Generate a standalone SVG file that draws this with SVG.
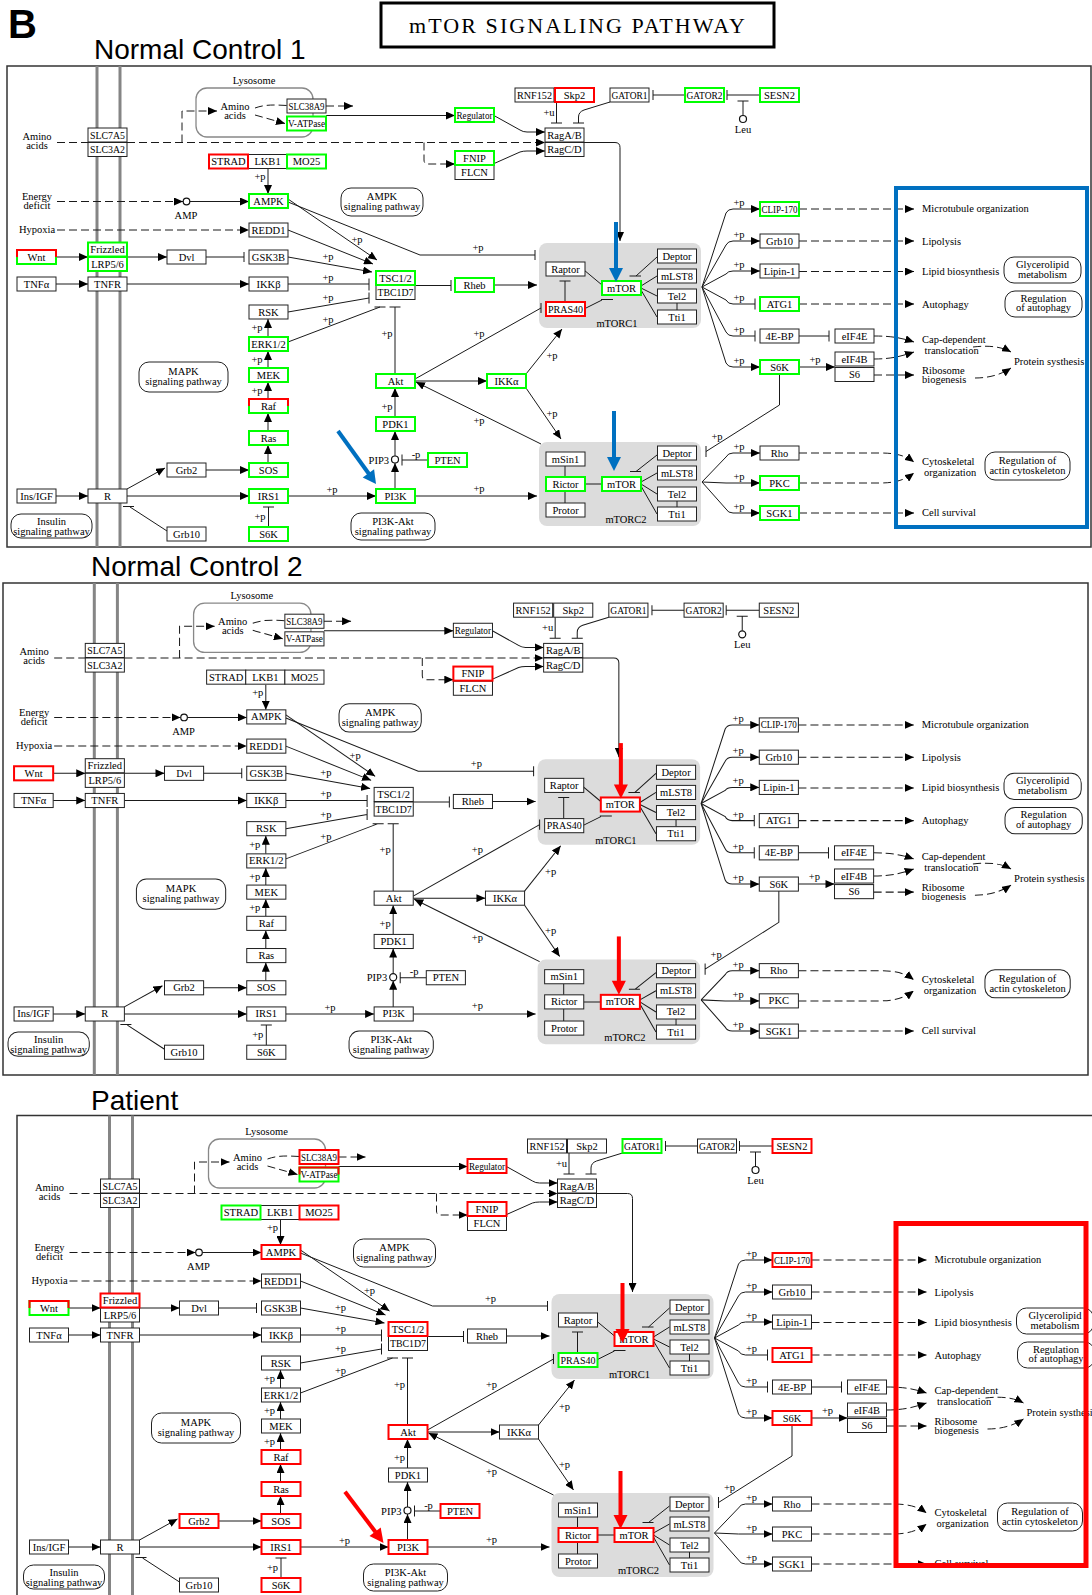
<svg xmlns="http://www.w3.org/2000/svg" xmlns:xlink="http://www.w3.org/1999/xlink" width="1092" height="1595" viewBox="0 0 1092 1595">
<style>
text{font-family:"Liberation Serif","DejaVu Serif",serif;font-size:10.5px;fill:#000;text-anchor:middle}
.l{text-anchor:start}.e{text-anchor:end}
.hd{font-family:"Liberation Sans",Arial,sans-serif;text-anchor:start;font-size:28px}
.hb{font-size:40px;font-weight:bold}
.tt{font-size:22px}
.n rect{width:39px;height:14px;fill:#fff;stroke:#222;stroke-width:1}
.g rect{stroke:#00ff00;stroke-width:2}
.r rect{stroke:#ff0000;stroke-width:2}
.rt{fill:none;stroke:#ff0000;stroke-width:2}
.w path{fill:none;stroke:#1a1a1a;stroke-width:1}
.w path.d{stroke-dasharray:8 4}
.w path.a{marker-end:url(#ah)}
.pw rect{fill:#fff;stroke:#222;stroke-width:1}
.ci{fill:#fff;stroke:#111;stroke-width:1.2}
.frame{fill:#fff;stroke:#333;stroke-width:1.5}
.mem{stroke:#858585;stroke-width:3}
.blue{fill:#0070c0;stroke:#0070c0}
.red{fill:#ff0000;stroke:#ff0000}
</style>
<defs>
<marker id="ah" viewBox="0 0 9 8" refX="9" refY="4" markerWidth="9" markerHeight="8" orient="auto" markerUnits="userSpaceOnUse"><path d="M0,0L9,4L0,8Z" fill="#000"/></marker>
</defs>
<rect width="1092" height="1595" fill="#fff"/>
<text class="hd hb" x="8" y="38">B</text>
<rect x="381" y="3" width="393" height="44" fill="#fff" stroke="#000" stroke-width="3"/>
<text class="tt" x="577" y="33" textLength="336">mTOR SIGNALING PATHWAY</text>
<text class="hd" x="94" y="59">Normal Control 1</text>
<text class="hd" x="91" y="576">Normal Control 2</text>
<text class="hd" x="91" y="1110">Patient</text>

<rect class="frame" x="7" y="66" width="1084" height="481"/>
<rect class="frame" x="3" y="583" width="1085" height="492"/>
<rect class="frame" x="17" y="1115.5" width="1090" height="500"/>
<g id="membranes">
<path class="mem" d="M97,66V547M120,66V547M94.3,583V1075M117.4,583V1075M109.5,1115.5V1595M132.5,1115.5V1595"/>
</g>

<g id="panel1">
<g id="base">
<rect x="196" y="88" width="117" height="49" rx="11" fill="none" stroke="#888" stroke-width="1.3"/>
<rect x="539" y="243" width="162" height="85" rx="8" fill="#dcdcdc"/>
<rect x="539" y="442" width="162" height="84" rx="8" fill="#dcdcdc"/>
<g class="pw">
<rect x="139" y="362" width="89" height="30" rx="10"/>
<rect x="341" y="188" width="82" height="28" rx="10"/>
<rect x="11" y="514" width="81" height="24" rx="10"/>
<rect x="351" y="513" width="84" height="27" rx="10"/>
<rect x="1004" y="257" width="77" height="26" rx="10"/>
<rect x="1005" y="291" width="77" height="26" rx="10"/>
<rect x="985" y="452" width="85" height="28" rx="10"/>
</g>
<g id="connectors" class="w">
<path class="d" d="M57,142.5H88"/>
<path class="d a" d="M127,142.5H545"/>
<path class="d a" d="M182,142.5V111H217"/>
<path class="d" d="M255,108C266,104 276,105 287,105.5"/>
<path class="d a" d="M255,115L285,123.5"/>
<path class="d a" d="M326,106H353"/>
<path class="a" d="M326,115.5H455"/>
<path class="a" d="M493,115L520,130Q523,132 527,132H545"/>
<path class="a" d="M493,164L520,152Q523,151 527,151H545"/>
<path class="d a" d="M424,142.5V160Q424,164 428,164H455"/>
<path d="M556.5,102V123M551,123H562"/>
<path d="M610,102L584,110Q578.5,112 578.5,117V123M573,123H584"/>
<path d="M685,95H653M653,90V100"/>
<path d="M760,95H727M727,90V100"/>
<path d="M743,115.5V101M737.5,101H748.5"/>
<path class="a" d="M584,142.5H615Q620,142.5 620,147.5V241"/>
<path class="d a" d="M57,201.5H183"/>
<path class="a" d="M190,201.5H249"/>
<path class="d a" d="M57,230H249"/>
<path class="a" d="M268,169V194"/>
<path class="a" d="M56,257H88"/>
<path class="a" d="M127,257H167"/>
<path d="M206,257H244M244,252V262"/>
<path class="a" d="M56,284H88"/>
<path class="a" d="M127,284H249"/>
<path class="a" d="M288,199L377,260"/>
<path d="M288,202L420,255H535M535,250V260"/>
<path class="a" d="M288,230L373,264"/>
<path class="a" d="M288,257L372,272"/>
<path d="M288,284H369M369,278.5V290.5"/>
<path d="M288,312L369,298M369,292.5V303.5"/>
<path d="M288,342L380,307M374.5,307H385.5"/>
<path d="M395,374V307M389.5,307H400.5"/>
<path d="M415,285.5H451M451,280V291"/>
<path class="a" d="M494,285H537"/>
<path class="a" d="M268,337V319"/>
<path class="a" d="M268,368V351"/>
<path class="a" d="M268,399V382"/>
<path class="a" d="M268,431V413"/>
<path class="a" d="M268,463V445"/>
<path d="M268.5,527V507M263,507H274"/>
<path class="a" d="M206,470H249"/>
<path class="a" d="M127,489L165,468"/>
<path class="a" d="M127,496H249"/>
<path class="a" d="M56,496H88"/>
<path d="M167,531L130,507M123,506.5H134"/>
<path class="a" d="M288,496H376"/>
<path class="a" d="M395,489V463"/>
<path class="a" d="M395,456V431"/>
<path class="a" d="M395,417V388"/>
<path d="M428,460H402M402,454.5V465.5"/>
<path class="a" d="M415,496H537"/>
<path class="a" d="M415,381H487"/>
<path class="a" d="M541,444L416,382"/>
<path d="M415,379L541,308M541,303V313"/>
<path class="a" d="M526,374L562,329"/>
<path class="a" d="M526,388L561,439"/>
<path d="M584,270L602,285"/>
<path d="M565,302V281M559.5,281H570.5"/>
<path d="M584,309L602,300M601,299.5H613"/>
<path d="M657,257L636,276M629.5,276H641"/>
<path d="M641,286L657,276M641,288L657,296M641,290L657,317M677,303V310"/>
<path d="M565,466V477M565,491V503M585,484H602"/>
<path d="M657,455L636,471.5M630,471.5H641"/>
<path d="M641,482L657,473M641,484L657,494M641,486L657,514M677,501V507"/>
<path class="a" d="M702,287L726,213Q728,209 733,209H760"/>
<path class="a" d="M702,287L726,245Q728,241 733,241H760"/>
<path class="a" d="M702,287L726,274Q728,271 733,271H760"/>
<path d="M702,287L726,300Q728,304 733,304H755M755,298.5V309.5"/>
<path d="M702,287L726,332Q728,336 733,336H755M755,330.5V341.5"/>
<path class="a" d="M702,287L726,363Q728,367 733,367H760"/>
<path class="a" d="M702,482L726,457Q728,453 733,453H760"/>
<path class="a" d="M702,482L726,483H760"/>
<path class="a" d="M702,482L726,509Q728,513 733,513H760"/>
<path d="M779.5,374V405L706,451.5M706,446V457"/>
<path class="a" d="M799,367H835"/>
<path d="M799,336H829M829,330.5V341.5"/>
<path class="d a" d="M799,209H914"/>
<path class="d a" d="M799,241H914"/>
<path class="d a" d="M799,271.5H914"/>
<path class="d a" d="M799,304H914"/>
<path class="d a" d="M874,336C892,336 902,338 914,342"/>
<path class="d a" d="M874,359C892,359 902,356 914,352"/>
<path class="d a" d="M874,375H914"/>
<path class="d a" d="M973,347C990,345 1002,347 1011,352"/>
<path class="d a" d="M975,378C990,378 1002,374 1011,368"/>
<path class="d a" d="M799,453H880C897,453 906,456 914,462"/>
<path class="d a" d="M799,483H880C897,483 906,479 914,473"/>
<path class="d a" d="M799,513H914"/>
</g>
<circle class="ci" cx="186.5" cy="201.5" r="3.3"/>
<circle class="ci" cx="395" cy="459.5" r="3.5"/>
<circle class="ci" cx="743" cy="119" r="3.5"/>
<g id="labels">
<text x="254" y="84">Lysosome</text>
<text x="235" y="110">Amino</text><text x="235" y="119">acids</text>
<text x="37" y="139.5">Amino</text><text x="37" y="148.5">acids</text>
<text x="37" y="200">Energy</text><text x="37" y="209">deficit</text>
<text x="37" y="233">Hypoxia</text>
<text x="186" y="218.5">AMP</text>
<text x="743" y="132.5">Leu</text>
<text class="e" x="389" y="463.5">PIP3</text>
<text x="617" y="327">mTORC1</text>
<text x="626" y="523">mTORC2</text>
<text x="183.5" y="374.5">MAPK</text><text x="183.5" y="385">signaling pathway</text>
<text x="382" y="200">AMPK</text><text x="382" y="210">signaling pathway</text>
<text x="51.5" y="525">Insulin</text><text x="51.5" y="535">signaling pathway</text>
<text x="393" y="524.5">PI3K-Akt</text><text x="393" y="535">signaling pathway</text>
<text x="1042.5" y="268">Glycerolipid</text><text x="1042.5" y="277.5">metabolism</text>
<text x="1043.5" y="301.5">Regulation</text><text x="1043.5" y="311">of autophagy</text>
<text x="1027.5" y="464">Regulation of</text><text x="1027.5" y="474">actin cytoskeleton</text>
<text class="l" x="922" y="212">Microtubule organization</text>
<text class="l" x="922" y="244.5">Lipolysis</text>
<text class="l" x="922" y="275">Lipid biosynthesis</text>
<text class="l" x="922" y="307.5">Autophagy</text>
<text class="l" x="922" y="343">Cap-dependent</text><text class="l" x="924.5" y="354">translocation</text>
<text class="l" x="922" y="373.5">Ribosome</text><text class="l" x="922" y="383">biogenesis</text>
<text class="l" x="1014" y="365">Protein systhesis</text>
<text class="l" x="922" y="465">Cytoskeletal</text><text class="l" x="924" y="476">organization</text>
<text class="l" x="922" y="516">Cell  survival</text>
<text x="549" y="116">+u</text>
<text x="260" y="180">+p</text>
<text x="357" y="243">+p</text>
<text x="478" y="251">+p</text>
<text x="328" y="260">+p</text>
<text x="328" y="281">+p</text>
<text x="328" y="301">+p</text>
<text x="328" y="323">+p</text>
<text x="257" y="331">+p</text>
<text x="257" y="362.5">+p</text>
<text x="257" y="393.5">+p</text>
<text x="260" y="520">+p</text>
<text x="332" y="493">+p</text>
<text x="387" y="336.5">+p</text>
<text x="387" y="409.5">+p</text>
<text x="479" y="336.5">+p</text>
<text x="479" y="423.5">+p</text>
<text x="479" y="491.5">+p</text>
<text x="552" y="358.5">+p</text>
<text x="552" y="417">+p</text>
<text x="416" y="457.5">-p</text>
<text x="739" y="206">+p</text>
<text x="739" y="238">+p</text>
<text x="739" y="268">+p</text>
<text x="739" y="301">+p</text>
<text x="739" y="333">+p</text>
<text x="739" y="364">+p</text>
<text x="739" y="450">+p</text>
<text x="739" y="480">+p</text>
<text x="739" y="510">+p</text>
<text x="815" y="363">+p</text>
<text x="717" y="440">+p</text>
</g>
</g>
<g id="nodes1">
<g id="n1-SLC7A5" class="n"><rect x="88" y="128"/><text x="107.5" y="138.5" textLength="35" lengthAdjust="spacingAndGlyphs">SLC7A5</text></g>
<g id="n1-SLC3A2" class="n"><rect x="88" y="142.5"/><text x="107.5" y="153" textLength="35" lengthAdjust="spacingAndGlyphs">SLC3A2</text></g>
<g id="n1-SLC38A9" class="n"><rect x="287" y="99"/><text x="306.5" y="109.5" textLength="36" lengthAdjust="spacingAndGlyphs">SLC38A9</text></g>
<g id="n1-RNF152" class="n"><rect x="515" y="88"/><text x="534.5" y="98.5" textLength="35" lengthAdjust="spacingAndGlyphs">RNF152</text></g>
<g id="n1-GATOR1" class="n"><rect x="610" y="88"/><text x="629.5" y="98.5" textLength="36" lengthAdjust="spacingAndGlyphs">GATOR1</text></g>
<g id="n1-RagAB" class="n"><rect x="545" y="128"/><text x="564.5" y="138.5">RagA/B</text></g>
<g id="n1-RagCD" class="n"><rect x="545" y="142.5"/><text x="564.5" y="153">RagC/D</text></g>
<g id="n1-FLCN" class="n"><rect x="455" y="165.5"/><text x="474.5" y="176">FLCN</text></g>
<g id="n1-LKB1" class="n"><rect x="248" y="154.5"/><text x="267.5" y="165">LKB1</text></g>
<g id="n1-REDD1" class="n"><rect x="249" y="223"/><text x="268.5" y="233.5">REDD1</text></g>
<g id="n1-GSK3B" class="n"><rect x="249" y="250"/><text x="268.5" y="260.5">GSK3B</text></g>
<g id="n1-IKKb" class="n"><rect x="249" y="277"/><text x="268.5" y="287.5">IKKβ</text></g>
<g id="n1-RSK" class="n"><rect x="249" y="305"/><text x="268.5" y="315.5">RSK</text></g>
<g id="n1-Dvl" class="n"><rect x="167" y="250"/><text x="186.5" y="260.5">Dvl</text></g>
<g id="n1-TNFa" class="n"><rect x="17" y="277"/><text x="36.5" y="287.5">TNFα</text></g>
<g id="n1-TNFR" class="n"><rect x="88" y="277"/><text x="107.5" y="287.5">TNFR</text></g>
<g id="n1-Grb2" class="n"><rect x="167" y="463"/><text x="186.5" y="473.5">Grb2</text></g>
<g id="n1-InsIGF" class="n"><rect x="17" y="489"/><text x="36.5" y="499.5">Ins/IGF</text></g>
<g id="n1-R" class="n"><rect x="88" y="489"/><text x="107.5" y="499.5">R</text></g>
<g id="n1-Grb10a" class="n"><rect x="167" y="527"/><text x="186.5" y="537.5">Grb10</text></g>
<g id="n1-TBC1D7" class="n"><rect x="376" y="285.5"/><text x="395.5" y="296" textLength="36" lengthAdjust="spacingAndGlyphs">TBC1D7</text></g>
<g id="n1-Raptor" class="n"><rect x="546" y="262"/><text x="565.5" y="272.5">Raptor</text></g>
<g id="n1-Deptor1" class="n"><rect x="657.5" y="249"/><text x="677" y="259.5">Deptor</text></g>
<g id="n1-mLST81" class="n"><rect x="657.5" y="269"/><text x="677" y="279.5">mLST8</text></g>
<g id="n1-Tel21" class="n"><rect x="657.5" y="289"/><text x="677" y="299.5">Tel2</text></g>
<g id="n1-Tti11" class="n"><rect x="657.5" y="310"/><text x="677" y="320.5">Tti1</text></g>
<g id="n1-mSin1" class="n"><rect x="546" y="452"/><text x="565.5" y="462.5">mSin1</text></g>
<g id="n1-Protor" class="n"><rect x="546" y="503"/><text x="565.5" y="513.5">Protor</text></g>
<g id="n1-Deptor2" class="n"><rect x="657.5" y="446"/><text x="677" y="456.5">Deptor</text></g>
<g id="n1-mLST82" class="n"><rect x="657.5" y="466"/><text x="677" y="476.5">mLST8</text></g>
<g id="n1-Tel22" class="n"><rect x="657.5" y="487"/><text x="677" y="497.5">Tel2</text></g>
<g id="n1-Tti12" class="n"><rect x="657.5" y="507"/><text x="677" y="517.5">Tti1</text></g>
<g id="n1-Grb10b" class="n"><rect x="760" y="234"/><text x="779.5" y="244.5">Grb10</text></g>
<g id="n1-Lipin1" class="n"><rect x="760" y="264"/><text x="779.5" y="274.5">Lipin-1</text></g>
<g id="n1-4EBP" class="n"><rect x="760" y="329"/><text x="779.5" y="339.5">4E-BP</text></g>
<g id="n1-eIF4E" class="n"><rect x="835" y="329"/><text x="854.5" y="339.5">eIF4E</text></g>
<g id="n1-eIF4B" class="n"><rect x="835" y="352"/><text x="854.5" y="362.5">eIF4B</text></g>
<g id="n1-S6" class="n"><rect x="835" y="367.5"/><text x="854.5" y="378">S6</text></g>
<g id="n1-Rho" class="n"><rect x="760" y="446"/><text x="779.5" y="456.5">Rho</text></g>
<g id="n1-VATPase" class="n g"><rect x="287" y="116.5"/><text x="306.5" y="127" textLength="37" lengthAdjust="spacingAndGlyphs">V-ATPase</text></g>
<g id="n1-Regulator" class="n g"><rect x="455" y="108"/><text x="474.5" y="118.5" textLength="36" lengthAdjust="spacingAndGlyphs">Regulator</text></g>
<g id="n1-FNIP" class="n g"><rect x="455" y="151"/><text x="474.5" y="161.5">FNIP</text></g>
<g id="n1-GATOR2" class="n g"><rect x="685" y="88"/><text x="704.5" y="98.5" textLength="36" lengthAdjust="spacingAndGlyphs">GATOR2</text></g>
<g id="n1-SESN2" class="n g"><rect x="760" y="88"/><text x="779.5" y="98.5">SESN2</text></g>
<g id="n1-MO25" class="n g"><rect x="287" y="154.5"/><text x="306.5" y="165">MO25</text></g>
<g id="n1-AMPK" class="n g"><rect x="249" y="194"/><text x="268.5" y="204.5">AMPK</text></g>
<g id="n1-Frizzled" class="n g"><rect x="88" y="242.5"/><text x="107.5" y="253">Frizzled</text></g>
<g id="n1-LRP56" class="n g"><rect x="88" y="257"/><text x="107.5" y="267.5">LRP5/6</text></g>
<g id="n1-TSC12" class="n g"><rect x="376" y="271"/><text x="395.5" y="281.5">TSC1/2</text></g>
<g id="n1-Rheb" class="n g"><rect x="455" y="278"/><text x="474.5" y="288.5">Rheb</text></g>
<g id="n1-mTOR1" class="n g"><rect x="602" y="281"/><text x="621.5" y="291.5">mTOR</text></g>
<g id="n1-mTOR2" class="n g"><rect x="602" y="477"/><text x="621.5" y="487.5">mTOR</text></g>
<g id="n1-Rictor" class="n g"><rect x="546" y="477"/><text x="565.5" y="487.5">Rictor</text></g>
<g id="n1-CLIP170" class="n g"><rect x="760" y="202"/><text x="779.5" y="212.5" textLength="36" lengthAdjust="spacingAndGlyphs">CLIP-170</text></g>
<g id="n1-ATG1" class="n g"><rect x="760" y="297"/><text x="779.5" y="307.5">ATG1</text></g>
<g id="n1-S6Kb" class="n g"><rect x="760" y="360"/><text x="779.5" y="370.5">S6K</text></g>
<g id="n1-PKC" class="n g"><rect x="760" y="476"/><text x="779.5" y="486.5">PKC</text></g>
<g id="n1-SGK1" class="n g"><rect x="760" y="506"/><text x="779.5" y="516.5">SGK1</text></g>
<g id="n1-ERK" class="n g"><rect x="249" y="337"/><text x="268.5" y="347.5">ERK1/2</text></g>
<g id="n1-MEK" class="n g"><rect x="249" y="368"/><text x="268.5" y="378.5">MEK</text></g>
<g id="n1-Ras" class="n g"><rect x="249" y="431"/><text x="268.5" y="441.5">Ras</text></g>
<g id="n1-SOS" class="n g"><rect x="249" y="463"/><text x="268.5" y="473.5">SOS</text></g>
<g id="n1-IRS1" class="n g"><rect x="249" y="489"/><text x="268.5" y="499.5">IRS1</text></g>
<g id="n1-S6Ka" class="n g"><rect x="249" y="527"/><text x="268.5" y="537.5">S6K</text></g>
<g id="n1-Akt" class="n g"><rect x="376" y="374"/><text x="395.5" y="384.5">Akt</text></g>
<g id="n1-IKKa" class="n g"><rect x="487" y="374"/><text x="506.5" y="384.5">IKKα</text></g>
<g id="n1-PDK1" class="n g"><rect x="376" y="417"/><text x="395.5" y="427.5">PDK1</text></g>
<g id="n1-PTEN" class="n g"><rect x="428" y="453"/><text x="447.5" y="463.5">PTEN</text></g>
<g id="n1-PI3K" class="n g"><rect x="376" y="489"/><text x="395.5" y="499.5">PI3K</text></g>
<g id="n1-STRAD" class="n r"><rect x="209" y="154.5"/><text x="228.5" y="165">STRAD</text></g>
<g id="n1-Skp2" class="n r"><rect x="555" y="88"/><text x="574.5" y="98.5">Skp2</text></g>
<g id="n1-PRAS40" class="n r"><rect x="546" y="302"/><text x="565.5" y="312.5" textLength="35" lengthAdjust="spacingAndGlyphs">PRAS40</text></g>
<g id="n1-Wnt" class="n g"><rect x="17" y="250"/><path class="rt" d="M17,257V250H56V257"/><text x="36.5" y="260.5">Wnt</text></g>
<g id="n1-Raf" class="n g"><rect x="249" y="399"/><path class="rt" d="M249,406V399H288V406"/><text x="268.5" y="409.5">Raf</text></g>
</g>
<g id="highlights1">
<rect x="896" y="188" width="191" height="339" fill="none" stroke="#0070c0" stroke-width="4"/>
<path class="blue" stroke-width="4" d="M616,222V270"/><polygon class="blue" stroke-width="0" points="609,268 623,268 616,282"/>
<path class="blue" stroke-width="4" d="M614,411V458"/><polygon class="blue" stroke-width="0" points="607,457 621,457 614,471"/>
<path class="blue" stroke-width="4" d="M338,431L369,474"/><polygon class="blue" stroke-width="0" points="362.7,477.5 374.1,469.3 376,484"/>
</g>
</g>

<g id="panel2" transform="translate(-3,514.5) scale(1.003,1.007)">
<use href="#base" xlink:href="#base"/>
<g id="nodes2">
<g id="n2-SLC7A5" class="n"><rect x="88" y="128"/><text x="107.5" y="138.5" textLength="35" lengthAdjust="spacingAndGlyphs">SLC7A5</text></g>
<g id="n2-SLC3A2" class="n"><rect x="88" y="142.5"/><text x="107.5" y="153" textLength="35" lengthAdjust="spacingAndGlyphs">SLC3A2</text></g>
<g id="n2-SLC38A9" class="n"><rect x="287" y="99"/><text x="306.5" y="109.5" textLength="36" lengthAdjust="spacingAndGlyphs">SLC38A9</text></g>
<g id="n2-VATPase" class="n"><rect x="287" y="116.5"/><text x="306.5" y="127" textLength="37" lengthAdjust="spacingAndGlyphs">V-ATPase</text></g>
<g id="n2-Regulator" class="n"><rect x="455" y="108"/><text x="474.5" y="118.5" textLength="36" lengthAdjust="spacingAndGlyphs">Regulator</text></g>
<g id="n2-RNF152" class="n"><rect x="515" y="88"/><text x="534.5" y="98.5" textLength="35" lengthAdjust="spacingAndGlyphs">RNF152</text></g>
<g id="n2-Skp2" class="n"><rect x="555" y="88"/><text x="574.5" y="98.5">Skp2</text></g>
<g id="n2-GATOR1" class="n"><rect x="610" y="88"/><text x="629.5" y="98.5" textLength="36" lengthAdjust="spacingAndGlyphs">GATOR1</text></g>
<g id="n2-GATOR2" class="n"><rect x="685" y="88"/><text x="704.5" y="98.5" textLength="36" lengthAdjust="spacingAndGlyphs">GATOR2</text></g>
<g id="n2-SESN2" class="n"><rect x="760" y="88"/><text x="779.5" y="98.5">SESN2</text></g>
<g id="n2-RagAB" class="n"><rect x="545" y="128"/><text x="564.5" y="138.5">RagA/B</text></g>
<g id="n2-RagCD" class="n"><rect x="545" y="142.5"/><text x="564.5" y="153">RagC/D</text></g>
<g id="n2-FLCN" class="n"><rect x="455" y="165.5"/><text x="474.5" y="176">FLCN</text></g>
<g id="n2-STRAD" class="n"><rect x="209" y="154.5"/><text x="228.5" y="165">STRAD</text></g>
<g id="n2-LKB1" class="n"><rect x="248" y="154.5"/><text x="267.5" y="165">LKB1</text></g>
<g id="n2-MO25" class="n"><rect x="287" y="154.5"/><text x="306.5" y="165">MO25</text></g>
<g id="n2-AMPK" class="n"><rect x="249" y="194"/><text x="268.5" y="204.5">AMPK</text></g>
<g id="n2-REDD1" class="n"><rect x="249" y="223"/><text x="268.5" y="233.5">REDD1</text></g>
<g id="n2-GSK3B" class="n"><rect x="249" y="250"/><text x="268.5" y="260.5">GSK3B</text></g>
<g id="n2-IKKb" class="n"><rect x="249" y="277"/><text x="268.5" y="287.5">IKKβ</text></g>
<g id="n2-RSK" class="n"><rect x="249" y="305"/><text x="268.5" y="315.5">RSK</text></g>
<g id="n2-ERK" class="n"><rect x="249" y="337"/><text x="268.5" y="347.5">ERK1/2</text></g>
<g id="n2-MEK" class="n"><rect x="249" y="368"/><text x="268.5" y="378.5">MEK</text></g>
<g id="n2-Raf" class="n"><rect x="249" y="399"/><text x="268.5" y="409.5">Raf</text></g>
<g id="n2-Ras" class="n"><rect x="249" y="431"/><text x="268.5" y="441.5">Ras</text></g>
<g id="n2-SOS" class="n"><rect x="249" y="463"/><text x="268.5" y="473.5">SOS</text></g>
<g id="n2-IRS1" class="n"><rect x="249" y="489"/><text x="268.5" y="499.5">IRS1</text></g>
<g id="n2-S6Ka" class="n"><rect x="249" y="527"/><text x="268.5" y="537.5">S6K</text></g>
<g id="n2-Frizzled" class="n"><rect x="88" y="242.5"/><text x="107.5" y="253">Frizzled</text></g>
<g id="n2-LRP56" class="n"><rect x="88" y="257"/><text x="107.5" y="267.5">LRP5/6</text></g>
<g id="n2-Dvl" class="n"><rect x="167" y="250"/><text x="186.5" y="260.5">Dvl</text></g>
<g id="n2-TNFa" class="n"><rect x="17" y="277"/><text x="36.5" y="287.5">TNFα</text></g>
<g id="n2-TNFR" class="n"><rect x="88" y="277"/><text x="107.5" y="287.5">TNFR</text></g>
<g id="n2-Grb2" class="n"><rect x="167" y="463"/><text x="186.5" y="473.5">Grb2</text></g>
<g id="n2-InsIGF" class="n"><rect x="17" y="489"/><text x="36.5" y="499.5">Ins/IGF</text></g>
<g id="n2-R" class="n"><rect x="88" y="489"/><text x="107.5" y="499.5">R</text></g>
<g id="n2-Grb10a" class="n"><rect x="167" y="527"/><text x="186.5" y="537.5">Grb10</text></g>
<g id="n2-TSC12" class="n"><rect x="376" y="271"/><text x="395.5" y="281.5">TSC1/2</text></g>
<g id="n2-TBC1D7" class="n"><rect x="376" y="285.5"/><text x="395.5" y="296" textLength="36" lengthAdjust="spacingAndGlyphs">TBC1D7</text></g>
<g id="n2-Rheb" class="n"><rect x="455" y="278"/><text x="474.5" y="288.5">Rheb</text></g>
<g id="n2-Akt" class="n"><rect x="376" y="374"/><text x="395.5" y="384.5">Akt</text></g>
<g id="n2-IKKa" class="n"><rect x="487" y="374"/><text x="506.5" y="384.5">IKKα</text></g>
<g id="n2-PDK1" class="n"><rect x="376" y="417"/><text x="395.5" y="427.5">PDK1</text></g>
<g id="n2-PTEN" class="n"><rect x="428" y="453"/><text x="447.5" y="463.5">PTEN</text></g>
<g id="n2-PI3K" class="n"><rect x="376" y="489"/><text x="395.5" y="499.5">PI3K</text></g>
<g id="n2-Raptor" class="n"><rect x="546" y="262"/><text x="565.5" y="272.5">Raptor</text></g>
<g id="n2-PRAS40" class="n"><rect x="546" y="302"/><text x="565.5" y="312.5" textLength="35" lengthAdjust="spacingAndGlyphs">PRAS40</text></g>
<g id="n2-Deptor1" class="n"><rect x="657.5" y="249"/><text x="677" y="259.5">Deptor</text></g>
<g id="n2-mLST81" class="n"><rect x="657.5" y="269"/><text x="677" y="279.5">mLST8</text></g>
<g id="n2-Tel21" class="n"><rect x="657.5" y="289"/><text x="677" y="299.5">Tel2</text></g>
<g id="n2-Tti11" class="n"><rect x="657.5" y="310"/><text x="677" y="320.5">Tti1</text></g>
<g id="n2-mSin1" class="n"><rect x="546" y="452"/><text x="565.5" y="462.5">mSin1</text></g>
<g id="n2-Rictor" class="n"><rect x="546" y="477"/><text x="565.5" y="487.5">Rictor</text></g>
<g id="n2-Protor" class="n"><rect x="546" y="503"/><text x="565.5" y="513.5">Protor</text></g>
<g id="n2-Deptor2" class="n"><rect x="657.5" y="446"/><text x="677" y="456.5">Deptor</text></g>
<g id="n2-mLST82" class="n"><rect x="657.5" y="466"/><text x="677" y="476.5">mLST8</text></g>
<g id="n2-Tel22" class="n"><rect x="657.5" y="487"/><text x="677" y="497.5">Tel2</text></g>
<g id="n2-Tti12" class="n"><rect x="657.5" y="507"/><text x="677" y="517.5">Tti1</text></g>
<g id="n2-CLIP170" class="n"><rect x="760" y="202"/><text x="779.5" y="212.5" textLength="36" lengthAdjust="spacingAndGlyphs">CLIP-170</text></g>
<g id="n2-Grb10b" class="n"><rect x="760" y="234"/><text x="779.5" y="244.5">Grb10</text></g>
<g id="n2-Lipin1" class="n"><rect x="760" y="264"/><text x="779.5" y="274.5">Lipin-1</text></g>
<g id="n2-ATG1" class="n"><rect x="760" y="297"/><text x="779.5" y="307.5">ATG1</text></g>
<g id="n2-4EBP" class="n"><rect x="760" y="329"/><text x="779.5" y="339.5">4E-BP</text></g>
<g id="n2-S6Kb" class="n"><rect x="760" y="360"/><text x="779.5" y="370.5">S6K</text></g>
<g id="n2-eIF4E" class="n"><rect x="835" y="329"/><text x="854.5" y="339.5">eIF4E</text></g>
<g id="n2-eIF4B" class="n"><rect x="835" y="352"/><text x="854.5" y="362.5">eIF4B</text></g>
<g id="n2-S6" class="n"><rect x="835" y="367.5"/><text x="854.5" y="378">S6</text></g>
<g id="n2-Rho" class="n"><rect x="760" y="446"/><text x="779.5" y="456.5">Rho</text></g>
<g id="n2-PKC" class="n"><rect x="760" y="476"/><text x="779.5" y="486.5">PKC</text></g>
<g id="n2-SGK1" class="n"><rect x="760" y="506"/><text x="779.5" y="516.5">SGK1</text></g>
<g id="n2-Wnt" class="n r"><rect x="17" y="250"/><text x="36.5" y="260.5">Wnt</text></g>
<g id="n2-FNIP" class="n r"><rect x="455" y="151"/><text x="474.5" y="161.5">FNIP</text></g>
<g id="n2-mTOR1" class="n r"><rect x="602" y="281"/><text x="621.5" y="291.5">mTOR</text></g>
<g id="n2-mTOR2" class="n r"><rect x="602" y="477"/><text x="621.5" y="487.5">mTOR</text></g>
</g>
<g id="highlights2">
<path class="red" stroke-width="4" d="M622,227V270"/><polygon class="red" stroke-width="0" points="615,268 629,268 622,282"/>
<path class="red" stroke-width="4" d="M620,419V465"/><polygon class="red" stroke-width="0" points="613,463 627,463 620,477"/>
</g>
</g>

<g id="panel3" transform="translate(12.5,1051)">
<use href="#base" xlink:href="#base"/>
<g id="nodes3">
<g id="n3-SLC7A5" class="n"><rect x="88" y="128"/><text x="107.5" y="138.5" textLength="35" lengthAdjust="spacingAndGlyphs">SLC7A5</text></g>
<g id="n3-SLC3A2" class="n"><rect x="88" y="142.5"/><text x="107.5" y="153" textLength="35" lengthAdjust="spacingAndGlyphs">SLC3A2</text></g>
<g id="n3-RNF152" class="n"><rect x="515" y="88"/><text x="534.5" y="98.5" textLength="35" lengthAdjust="spacingAndGlyphs">RNF152</text></g>
<g id="n3-Skp2" class="n"><rect x="555" y="88"/><text x="574.5" y="98.5">Skp2</text></g>
<g id="n3-GATOR2" class="n"><rect x="685" y="88"/><text x="704.5" y="98.5" textLength="36" lengthAdjust="spacingAndGlyphs">GATOR2</text></g>
<g id="n3-RagAB" class="n"><rect x="545" y="128"/><text x="564.5" y="138.5">RagA/B</text></g>
<g id="n3-RagCD" class="n"><rect x="545" y="142.5"/><text x="564.5" y="153">RagC/D</text></g>
<g id="n3-FLCN" class="n"><rect x="455" y="165.5"/><text x="474.5" y="176">FLCN</text></g>
<g id="n3-LKB1" class="n"><rect x="248" y="154.5"/><text x="267.5" y="165">LKB1</text></g>
<g id="n3-REDD1" class="n"><rect x="249" y="223"/><text x="268.5" y="233.5">REDD1</text></g>
<g id="n3-GSK3B" class="n"><rect x="249" y="250"/><text x="268.5" y="260.5">GSK3B</text></g>
<g id="n3-IKKb" class="n"><rect x="249" y="277"/><text x="268.5" y="287.5">IKKβ</text></g>
<g id="n3-RSK" class="n"><rect x="249" y="305"/><text x="268.5" y="315.5">RSK</text></g>
<g id="n3-ERK" class="n"><rect x="249" y="337"/><text x="268.5" y="347.5">ERK1/2</text></g>
<g id="n3-MEK" class="n"><rect x="249" y="368"/><text x="268.5" y="378.5">MEK</text></g>
<g id="n3-LRP56" class="n"><rect x="88" y="257"/><text x="107.5" y="267.5">LRP5/6</text></g>
<g id="n3-Dvl" class="n"><rect x="167" y="250"/><text x="186.5" y="260.5">Dvl</text></g>
<g id="n3-TNFa" class="n"><rect x="17" y="277"/><text x="36.5" y="287.5">TNFα</text></g>
<g id="n3-TNFR" class="n"><rect x="88" y="277"/><text x="107.5" y="287.5">TNFR</text></g>
<g id="n3-InsIGF" class="n"><rect x="17" y="489"/><text x="36.5" y="499.5">Ins/IGF</text></g>
<g id="n3-R" class="n"><rect x="88" y="489"/><text x="107.5" y="499.5">R</text></g>
<g id="n3-Grb10a" class="n"><rect x="167" y="527"/><text x="186.5" y="537.5">Grb10</text></g>
<g id="n3-TBC1D7" class="n"><rect x="376" y="285.5"/><text x="395.5" y="296" textLength="36" lengthAdjust="spacingAndGlyphs">TBC1D7</text></g>
<g id="n3-Rheb" class="n"><rect x="455" y="278"/><text x="474.5" y="288.5">Rheb</text></g>
<g id="n3-IKKa" class="n"><rect x="487" y="374"/><text x="506.5" y="384.5">IKKα</text></g>
<g id="n3-PDK1" class="n"><rect x="376" y="417"/><text x="395.5" y="427.5">PDK1</text></g>
<g id="n3-Raptor" class="n"><rect x="546" y="262"/><text x="565.5" y="272.5">Raptor</text></g>
<g id="n3-Deptor1" class="n"><rect x="657.5" y="249"/><text x="677" y="259.5">Deptor</text></g>
<g id="n3-mLST81" class="n"><rect x="657.5" y="269"/><text x="677" y="279.5">mLST8</text></g>
<g id="n3-Tel21" class="n"><rect x="657.5" y="289"/><text x="677" y="299.5">Tel2</text></g>
<g id="n3-Tti11" class="n"><rect x="657.5" y="310"/><text x="677" y="320.5">Tti1</text></g>
<g id="n3-mSin1" class="n"><rect x="546" y="452"/><text x="565.5" y="462.5">mSin1</text></g>
<g id="n3-Protor" class="n"><rect x="546" y="503"/><text x="565.5" y="513.5">Protor</text></g>
<g id="n3-Deptor2" class="n"><rect x="657.5" y="446"/><text x="677" y="456.5">Deptor</text></g>
<g id="n3-mLST82" class="n"><rect x="657.5" y="466"/><text x="677" y="476.5">mLST8</text></g>
<g id="n3-Tel22" class="n"><rect x="657.5" y="487"/><text x="677" y="497.5">Tel2</text></g>
<g id="n3-Tti12" class="n"><rect x="657.5" y="507"/><text x="677" y="517.5">Tti1</text></g>
<g id="n3-Grb10b" class="n"><rect x="760" y="234"/><text x="779.5" y="244.5">Grb10</text></g>
<g id="n3-Lipin1" class="n"><rect x="760" y="264"/><text x="779.5" y="274.5">Lipin-1</text></g>
<g id="n3-4EBP" class="n"><rect x="760" y="329"/><text x="779.5" y="339.5">4E-BP</text></g>
<g id="n3-eIF4E" class="n"><rect x="835" y="329"/><text x="854.5" y="339.5">eIF4E</text></g>
<g id="n3-eIF4B" class="n"><rect x="835" y="352"/><text x="854.5" y="362.5">eIF4B</text></g>
<g id="n3-S6" class="n"><rect x="835" y="367.5"/><text x="854.5" y="378">S6</text></g>
<g id="n3-Rho" class="n"><rect x="760" y="446"/><text x="779.5" y="456.5">Rho</text></g>
<g id="n3-PKC" class="n"><rect x="760" y="476"/><text x="779.5" y="486.5">PKC</text></g>
<g id="n3-SGK1" class="n"><rect x="760" y="506"/><text x="779.5" y="516.5">SGK1</text></g>
<g id="n3-SLC38A9" class="n r"><rect x="287" y="99"/><text x="306.5" y="109.5" textLength="36" lengthAdjust="spacingAndGlyphs">SLC38A9</text></g>
<g id="n3-Regulator" class="n r"><rect x="455" y="108"/><text x="474.5" y="118.5" textLength="36" lengthAdjust="spacingAndGlyphs">Regulator</text></g>
<g id="n3-FNIP" class="n r"><rect x="455" y="151"/><text x="474.5" y="161.5">FNIP</text></g>
<g id="n3-MO25" class="n r"><rect x="287" y="154.5"/><text x="306.5" y="165">MO25</text></g>
<g id="n3-AMPK" class="n r"><rect x="249" y="194"/><text x="268.5" y="204.5">AMPK</text></g>
<g id="n3-Frizzled" class="n r"><rect x="88" y="242.5"/><text x="107.5" y="253">Frizzled</text></g>
<g id="n3-TSC12" class="n r"><rect x="376" y="271"/><text x="395.5" y="281.5">TSC1/2</text></g>
<g id="n3-Raf" class="n r"><rect x="249" y="399"/><text x="268.5" y="409.5">Raf</text></g>
<g id="n3-Ras" class="n r"><rect x="249" y="431"/><text x="268.5" y="441.5">Ras</text></g>
<g id="n3-Grb2" class="n r"><rect x="167" y="463"/><text x="186.5" y="473.5">Grb2</text></g>
<g id="n3-SOS" class="n r"><rect x="249" y="463"/><text x="268.5" y="473.5">SOS</text></g>
<g id="n3-IRS1" class="n r"><rect x="249" y="489"/><text x="268.5" y="499.5">IRS1</text></g>
<g id="n3-S6Ka" class="n r"><rect x="249" y="527"/><text x="268.5" y="537.5">S6K</text></g>
<g id="n3-Akt" class="n r"><rect x="376" y="374"/><text x="395.5" y="384.5">Akt</text></g>
<g id="n3-PTEN" class="n r"><rect x="428" y="453"/><text x="447.5" y="463.5">PTEN</text></g>
<g id="n3-PI3K" class="n r"><rect x="376" y="489"/><text x="395.5" y="499.5">PI3K</text></g>
<g id="n3-SESN2" class="n r"><rect x="760" y="88"/><text x="779.5" y="98.5">SESN2</text></g>
<g id="n3-mTOR1" class="n r"><rect x="602" y="281"/><text x="621.5" y="291.5">mTOR</text></g>
<g id="n3-mTOR2" class="n r"><rect x="602" y="477"/><text x="621.5" y="487.5">mTOR</text></g>
<g id="n3-Rictor" class="n r"><rect x="546" y="477"/><text x="565.5" y="487.5">Rictor</text></g>
<g id="n3-CLIP170" class="n r"><rect x="760" y="202"/><text x="779.5" y="212.5" textLength="36" lengthAdjust="spacingAndGlyphs">CLIP-170</text></g>
<g id="n3-ATG1" class="n r"><rect x="760" y="297"/><text x="779.5" y="307.5">ATG1</text></g>
<g id="n3-S6Kb" class="n r"><rect x="760" y="360"/><text x="779.5" y="370.5">S6K</text></g>
<g id="n3-STRAD" class="n g"><rect x="209" y="154.5"/><text x="228.5" y="165">STRAD</text></g>
<g id="n3-GATOR1" class="n g"><rect x="610" y="88"/><text x="629.5" y="98.5" textLength="36" lengthAdjust="spacingAndGlyphs">GATOR1</text></g>
<g id="n3-PRAS40" class="n g"><rect x="546" y="302"/><text x="565.5" y="312.5" textLength="35" lengthAdjust="spacingAndGlyphs">PRAS40</text></g>
<g id="n3-VATPase" class="n g"><rect x="287" y="116.5"/><path class="rt" d="M287,123.5V116.5H326V123.5"/><text x="306.5" y="127" textLength="37" lengthAdjust="spacingAndGlyphs">V-ATPase</text></g>
<g id="n3-Wnt" class="n g"><rect x="17" y="250"/><path class="rt" d="M17,257V250H56V257"/><text x="36.5" y="260.5">Wnt</text></g>
</g>
<g id="highlights3">
<rect x="883.5" y="172.5" width="190" height="342" fill="none" stroke="#ff0000" stroke-width="5"/>
<path class="red" stroke-width="4" d="M610,232V280"/><polygon class="red" stroke-width="0" points="603,278 617,278 610,292"/>
<path class="red" stroke-width="4" d="M608,420V466"/><polygon class="red" stroke-width="0" points="601,464 615,464 608,478"/>
<path class="red" stroke-width="4" d="M332.5,440.7L363,481"/><polygon class="red" stroke-width="0" points="357,485 368.2,476.6 371,492"/>
</g>
</g>
</svg>
